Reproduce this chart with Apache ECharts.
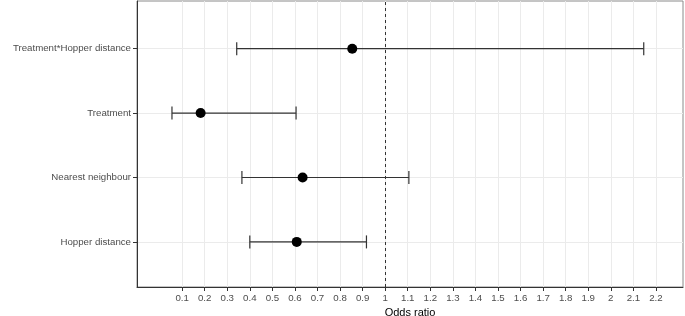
<!DOCTYPE html>
<html>
<head>
<meta charset="utf-8">
<script src="https://cdn.jsdelivr.net/npm/echarts@6/dist/echarts.min.js"></script>
<style>
  html, body { margin: 0; padding: 0; background: #fff; }
  #chart { width: 685px; height: 316px; }
</style>
</head>
<body>
<div id="chart"></div>
<script>
// variables, bottom to top
var variables = ['Hopper distance', 'Nearest neighbour', 'Treatment', 'Treatment*Hopper distance'];
var oddsRatio = [0.608, 0.634, 0.182, 0.854];
var lowerCI = [0.400, 0.365, 0.055, 0.342];
var upperCI = [0.917, 1.105, 0.605, 2.146];
var xTicks = [0.1, 0.2, 0.3, 0.4, 0.5, 0.6, 0.7, 0.8, 0.9, 1, 1.1, 1.2, 1.3, 1.4, 1.5, 1.6, 1.7, 1.8, 1.9, 2, 2.1, 2.2];
var yTicks = [1, 2, 3, 4];
var refLine = 1;

var pointData = [];
var barData = [];
for (var i = 0; i < variables.length; i++) {
    pointData.push([oddsRatio[i], i + 1]);
    barData.push([lowerCI[i], upperCI[i], i + 1]);
}

var myChart = echarts.init(document.getElementById('chart'));

var option = {
    animation: false,
    textStyle: { fontFamily: 'Liberation Sans, Arial, sans-serif' },
    grid: {
        left: 137, right: 2, top: 1, bottom: 29,
        containLabel: false,
        outerBoundsMode: 'none',
        show: true,
        borderColor: '#8a8a8a',
        borderWidth: 1
    },
    xAxis: {
        type: 'value',
        min: -0.1,
        max: 2.32,
        name: 'Odds ratio',
        nameLocation: 'middle',
        nameGap: 18,
        nameTextStyle: { color: '#000', fontSize: 11 },
        axisLine: { onZero: false, lineStyle: { color: '#333', width: 1 } },
        axisTick: { length: 4, customValues: xTicks, lineStyle: { color: '#333' } },
        axisLabel: { customValues: xTicks, color: '#4d4d4d', fontSize: 9.7, margin: 6 },
        splitLine: { lineStyle: { color: '#ebebeb', width: 1 } }
    },
    yAxis: {
        type: 'value',
        min: 0.3,
        max: 4.74,
        name: 'Variable',
        nameLocation: 'middle',
        nameGap: 124,
        nameRotate: 90,
        nameTextStyle: { color: '#000', fontSize: 11 },
        axisLine: { onZero: false, lineStyle: { color: '#333', width: 1 } },
        axisTick: { length: 4, customValues: yTicks, lineStyle: { color: '#333' } },
        axisLabel: {
            customValues: yTicks,
            color: '#4d4d4d',
            fontSize: 9.7,
            margin: 6,
            formatter: function (v) { return variables[Math.round(v) - 1] || ''; }
        },
        splitLine: { lineStyle: { color: '#ebebeb', width: 1 } }
    },
    series: [
        {
            type: 'custom',
            data: barData,
            renderItem: function (params, api) {
                var y = api.value(2);
                var p1 = api.coord([api.value(0), y]);
                var p2 = api.coord([api.value(1), y]);
                var h = 6.5;
                var st = { stroke: '#333', lineWidth: 1.2 };
                return {
                    type: 'group',
                    children: [
                        { type: 'line', shape: { x1: p1[0], y1: p1[1], x2: p2[0], y2: p2[1] }, style: st },
                        { type: 'line', shape: { x1: p1[0], y1: p1[1] - h, x2: p1[0], y2: p1[1] + h }, style: st },
                        { type: 'line', shape: { x1: p2[0], y1: p2[1] - h, x2: p2[0], y2: p2[1] + h }, style: st }
                    ]
                };
            },
            z: 2
        },
        {
            type: 'scatter',
            data: pointData,
            symbol: 'circle',
            symbolSize: 10,
            itemStyle: { color: '#000', opacity: 1 },
            z: 3,
            markLine: {
                silent: true,
                symbol: 'none',
                label: { show: false },
                lineStyle: { color: '#333', type: [3, 3], width: 1 },
                data: [{ xAxis: refLine }]
            }
        }
    ]
};

myChart.setOption(option);
</script>
</body>
</html>
